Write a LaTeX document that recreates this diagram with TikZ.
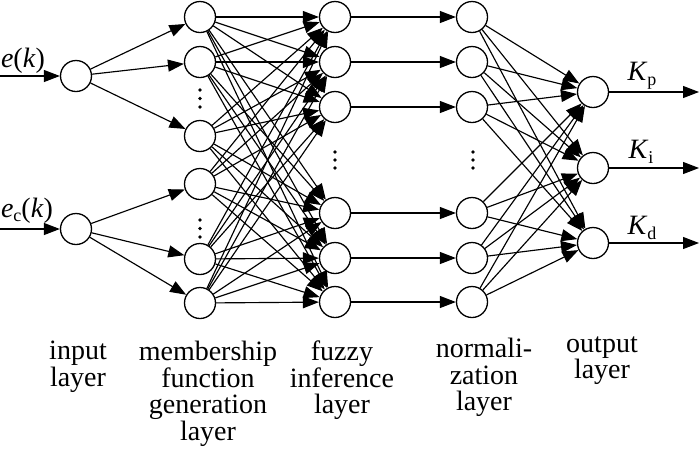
\documentclass[tikz,border=0pt]{standalone}
\usepackage{fontspec}
\setmainfont{Liberation Serif}
\usetikzlibrary{arrows.meta}
\begin{document}
\begin{tikzpicture}[x=1pt,y=-1pt,
  neuron/.style={circle,draw,line width=1.3pt,minimum size=31pt,inner sep=0pt,fill=white},
  conn/.style={line width=1.15pt,-{Triangle[length=16pt,width=12pt]}},
  lbl/.style={font=\fontsize{28}{26.5}\selectfont,align=center,anchor=north,inner sep=0pt},
  sym/.style={font=\fontsize{28}{28}\selectfont,inner sep=0pt}]
\useasboundingbox (0,0) rectangle (700,448);
% input layer
\node[neuron] (in1) at (76,76) {};
\node[neuron] (in2) at (76,229) {};
% membership layer
\foreach \i/\y in {1/17,2/62,3/136,4/184,5/259,6/303}
  \node[neuron] (m\i) at (200,\y) {};
% fuzzy inference layer
\foreach \i/\y in {1/17,2/62,3/107,4/213,5/258,6/302}
  \node[neuron] (f\i) at (335,\y) {};
% normalization layer
\foreach \i/\y in {1/17,2/62,3/107,4/213,5/258,6/302}
  \node[neuron] (n\i) at (472,\y) {};
% output layer
\foreach \i/\y in {1/92,2/168,3/243}
  \node[neuron] (o\i) at (593,\y) {};
% input arrows
\coordinate (s1) at (0,76);
\coordinate (s2) at (0,229);
\draw[conn] (s1) -- (in1);
\draw[conn] (s2) -- (in2);
\node[sym] (le) at (23,61) {\textit{e}(\textit{k})};
\node[sym] (lec) at (27,211) {\textit{e}\raisebox{-4pt}{\fontsize{18}{18}\selectfont c}(\textit{k})};
% input -> membership
\foreach \j in {1,2,3} \draw[conn] (in1) -- (m\j);
\foreach \j in {4,5,6} \draw[conn] (in2) -- (m\j);
% membership -> fuzzy
\foreach \i in {1,...,6} \foreach \j in {1,...,6} \draw[conn] (m\i) -- (f\j);
% fuzzy -> normalization
\foreach \i in {1,...,6} \draw[conn] (f\i) -- (n\i);
% normalization -> output
\foreach \i in {1,...,6} \foreach \j in {1,2,3} \draw[conn] (n\i) -- (o\j);
% outputs
\coordinate (t1) at (699,92);
\coordinate (t2) at (699,168);
\coordinate (t3) at (699,243);
\foreach \j in {1,2,3} \draw[conn] (o\j) -- (t\j);
\node[sym] (kp) at (642,76) {\textit{K}\raisebox{-5pt}{\fontsize{18}{18}\selectfont p}};
\node[sym] (ki) at (641,152) {\textit{K}\raisebox{-5pt}{\fontsize{18}{18}\selectfont i}};
\node[sym] (kd) at (642,228) {\textit{K}\raisebox{-5pt}{\fontsize{18}{18}\selectfont d}};
% dots
\foreach \y in {90,98.5,107} \fill (200,\y) circle (1.8pt);
\foreach \y in {220,228.5,237} \fill (200,\y) circle (1.8pt);
\foreach \y in {152,160,168} \fill (335,\y) circle (1.8pt);
\foreach \y in {152,160,168} \fill (473,\y) circle (1.8pt);
% layer labels
\node[lbl] (l1) at (78,341) {input\\layer};
\node[lbl] (l2) at (208,341) {membership\\function\\generation\\layer};
\node[lbl] (l3) at (342,341) {fuzzy\\inference\\layer};
\node[lbl] (l4) at (484,338) {normali-\\zation\\layer};
\node[lbl] (l5) at (602,336.5) {output\\layer};
\end{tikzpicture}
\end{document}
